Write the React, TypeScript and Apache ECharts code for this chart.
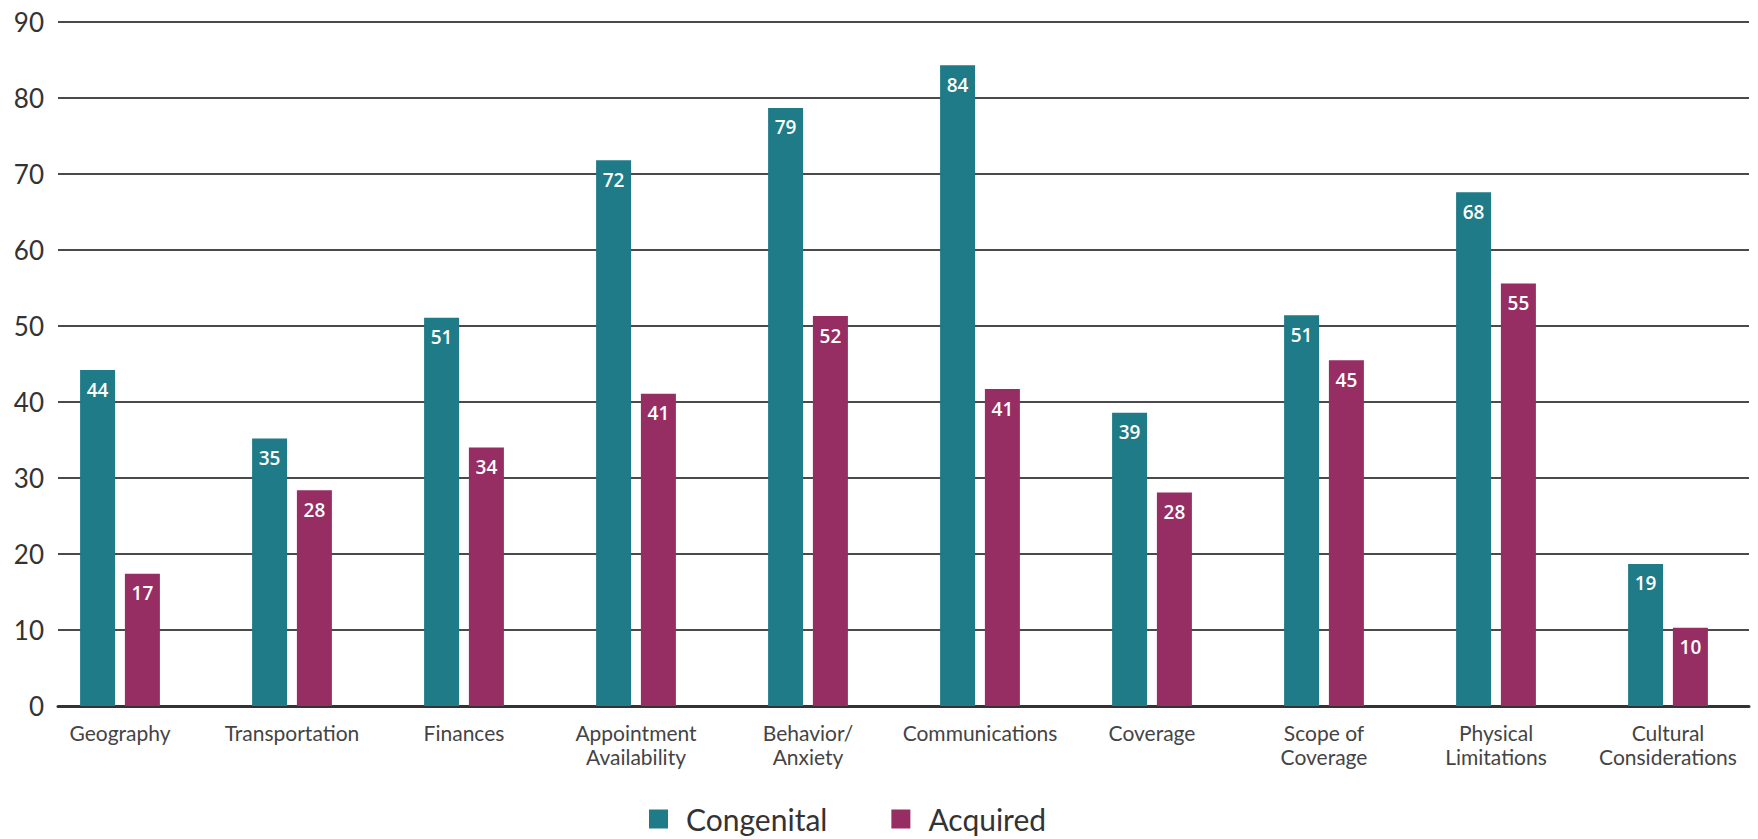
import React, { useEffect, useRef } from "react";
import * as echarts from "echarts";

const categories = [
  "Geography",
  "Transportation",
  "Finances",
  "Appointment\nAvailability",
  "Behavior/\nAnxiety",
  "Communications",
  "Coverage",
  "Scope of\nCoverage",
  "Physical\nLimitations",
  "Cultural\nConsiderations",
];
const seriesNames = ["Congenital", "Acquired"];
const congenitalValues = [44.2, 35.2, 51.1, 71.8, 78.7, 84.3, 38.6, 51.4, 67.6, 18.7];
const acquiredValues = [17.4, 28.4, 34.0, 41.1, 51.3, 41.7, 28.1, 45.5, 55.6, 10.3];
const congenitalLabels = ["44", "35", "51", "72", "79", "84", "39", "51", "68", "19"];
const acquiredLabels = ["17", "28", "34", "41", "52", "41", "28", "45", "55", "10"];
const yMin = 0;
const yMax = 90;
const yInterval = 10;

const colors = ["#1e7b87", "#962d63"];

export default function App() {
  const ref = useRef<HTMLDivElement>(null);
  useEffect(() => {
    if (!ref.current) return;
    const chart = echarts.init(ref.current, null, { renderer: "svg" });
    const labelFor = (labels: string[]) => ({
      show: true,
      position: "insideTop",
      distance: 10,
      color: "#ffffff",
      fontFamily: "Open Sans",
      fontWeight: 600,
      fontSize: 19,
      formatter: (p: any) => labels[p.dataIndex],
    });
    chart.setOption({
      animation: false,
      backgroundColor: "#ffffff",
      color: colors,
      textStyle: { fontFamily: "Lato" },
      legend: {
        data: seriesNames,
        left: 649,
        top: 803,
        padding: 0,
        icon: "rect",
        itemWidth: 19,
        itemHeight: 19,
        itemGap: 64,
        textStyle: {
          fontFamily: "Lato",
          fontSize: 30,
          lineHeight: 32,
          color: "#333333",
          padding: [0, 0, 0, 13],
        },
      },
      grid: [
        { left: 34, right: 4, top: 22, bottom: 133, containLabel: false },
        { left: 58, right: 9, top: 22, bottom: 133, containLabel: false },
      ],
      xAxis: [
        {
          type: "category",
          gridIndex: 0,
          data: categories,
          axisLine: { show: false },
          axisTick: { show: false },
          axisLabel: {
            interval: 0,
            margin: 14,
            fontFamily: "Lato",
            fontSize: 21,
            lineHeight: 24,
            color: "#444444",
          },
        },
        {
          type: "value",
          gridIndex: 1,
          min: 0,
          max: 1,
          axisLabel: { show: false },
          axisTick: { show: false },
          splitLine: { show: false },
          axisLine: { show: true, lineStyle: { color: "#333333", width: 3 } },
        },
      ],
      yAxis: [
        {
          type: "value",
          gridIndex: 0,
          min: yMin,
          max: yMax,
          interval: yInterval,
          show: false,
        },
        {
          type: "value",
          gridIndex: 1,
          min: yMin,
          max: yMax,
          interval: yInterval,
          axisLine: { show: false },
          axisTick: { show: false },
          axisLabel: {
            margin: 14,
            fontFamily: "Lato",
            fontSize: 26,
            color: "#333333",
          },
          splitLine: { show: true, lineStyle: { color: "#4a4a4a", width: 2 } },
        },
      ],
      series: [
        {
          name: seriesNames[0],
          type: "bar",
          xAxisIndex: 0,
          yAxisIndex: 0,
          data: congenitalValues,
          barWidth: 35,
          barGap: "28%",
          itemStyle: { color: colors[0] },
          label: labelFor(congenitalLabels),
          z: 3,
        },
        {
          name: seriesNames[1],
          type: "bar",
          xAxisIndex: 0,
          yAxisIndex: 0,
          data: acquiredValues,
          barWidth: 35,
          barGap: "28%",
          itemStyle: { color: colors[1] },
          label: labelFor(acquiredLabels),
          z: 3,
        },
      ],
    });
    return () => chart.dispose();
  }, []);
  return (
    <div
      ref={ref}
      style={{ position: "fixed", left: 0, top: 0, width: 1758, height: 839 }}
    />
  );
}
